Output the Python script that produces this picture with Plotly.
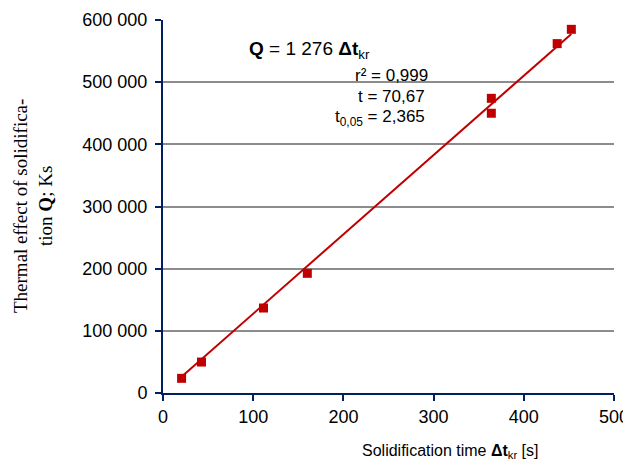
import plotly.graph_objects as go

time_s = [20.6, 42.7, 111.4, 160, 364, 364, 437, 452.7]
heat_Ks = [23600, 49800, 136700, 192500, 474000, 450000, 562000, 585000]
slope = 1276
y_ticks = [0, 100000, 200000, 300000, 400000, 500000, 600000]
y_tick_labels = ["0", "100 000", "200 000", "300 000", "400 000", "500 000", "600 000"]
x_ticks = [0, 100, 200, 300, 400, 500]

red = "#C00000"
navy = "#002060"

fit_x = [min(time_s), max(time_s)]
fit_y = [slope * v for v in fit_x]

OFF = 8  # page body margin
W, H = 631 - OFF, 464 - OFF
L, T = 163 - OFF, 20 - OFF
PW, PH = 451, 373
R, B = W - L - PW, H - T - PH

fig = go.Figure()
fig.add_trace(go.Scatter(x=fit_x, y=fit_y, mode="lines",
                         line=dict(color=red, width=2), hoverinfo="skip"))
fig.add_trace(go.Scatter(x=time_s, y=heat_Ks, mode="markers",
                         marker=dict(symbol="square", size=9, color=red)))

fig.update_layout(
    width=W, height=H,
    margin=dict(l=L, r=R, t=T, b=B, autoexpand=False),
    paper_bgcolor="white", plot_bgcolor="white",
    showlegend=False,
    font=dict(family="Liberation Sans, Arial", size=18, color="black"),
    xaxis=dict(range=[0, 500], tickvals=x_ticks, showgrid=False,
               showline=True, linecolor=navy, linewidth=2,
               ticks="outside", tickcolor=navy, tickwidth=2, ticklen=6,
               zeroline=False, tickfont=dict(size=18), automargin=False),
    yaxis=dict(range=[0, 600000], tickvals=y_ticks, ticktext=y_tick_labels,
               showgrid=True, gridcolor="#8c8c8c", gridwidth=2,
               showline=True, linecolor=navy, linewidth=2,
               ticks="outside", tickcolor=navy, tickwidth=2, ticklen=6,
               ticklabelstandoff=4,
               zeroline=False, tickfont=dict(size=18), automargin=False),
)

annotations = [
    dict(text="<b>Q</b> = 1 276 <b>Δt</b><sub>kr</sub>", x=247, y=50,
         xanchor="left", yanchor="middle", font=dict(size=19)),
    dict(text="r² = 0,999", x=430, y=75, xanchor="right", yanchor="middle",
         font=dict(size=17)),
    dict(text="t = 70,67", x=427, y=96, xanchor="right", yanchor="middle",
         font=dict(size=17)),
    dict(text="t<sub>0,05</sub> = 2,365", x=427, y=118, xanchor="right",
         yanchor="middle", font=dict(size=17)),
    dict(text="Solidification time <b>Δt</b><sub>kr</sub> [s]", x=450, y=451,
         xanchor="center", yanchor="middle", font=dict(size=16)),
    dict(text="Thermal effect of solidifica-<br>tion <b>Q</b>; Ks", x=33, y=206,
         xanchor="center", yanchor="middle", textangle=-90,
         font=dict(family="Liberation Serif, Times New Roman", size=19)),
]
for a in annotations:
    px_x, px_y = a.pop("x") - OFF, a.pop("y") - OFF
    fig.add_annotation(x=(px_x - L) / PW, y=(H - B - px_y) / PH,
                       xref="paper", yref="paper", showarrow=False, **a)

fig.write_html("out.html")
